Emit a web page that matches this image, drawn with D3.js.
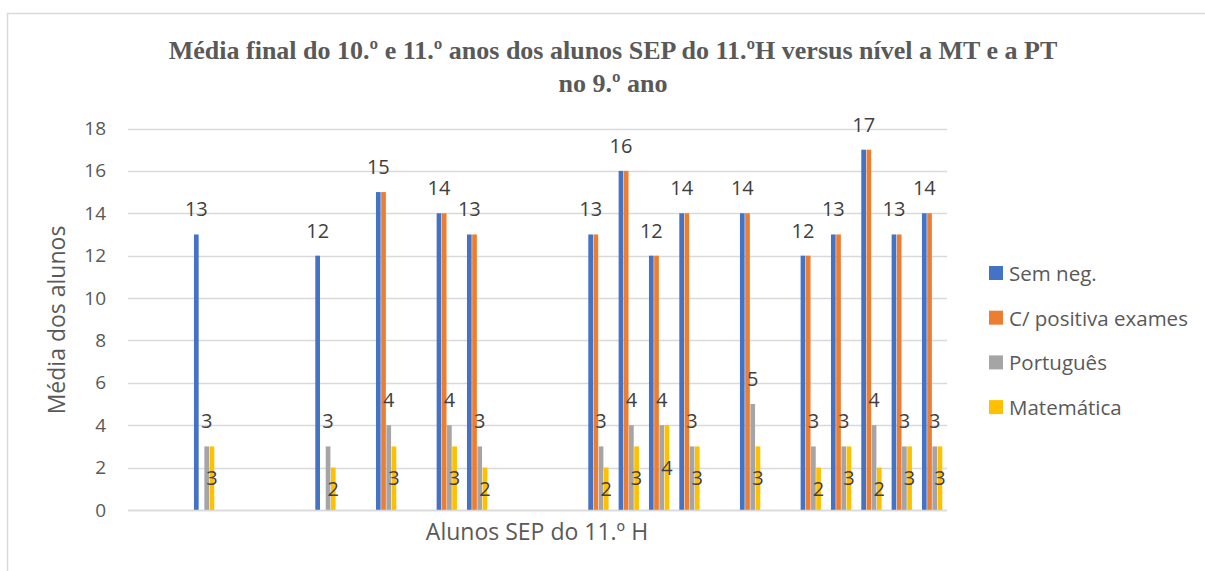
<!DOCTYPE html>
<html>
<head>
<meta charset="utf-8">
<script src="https://cdn.jsdelivr.net/npm/d3@7"></script>
<style>
  body { margin: 0; background: #fff; }
  svg { display: block; }
</style>
</head>
<body>
<div id="chart"></div>
<script>
// data (27 categories, empty ones are blank students)
const categories = d3.range(1, 28).map(String);
const semNeg     = [null,null,13,null,null,null,12,null,15,null,14,13,null,null,null,13,16,12,14,null,14,null,12,13,17,13,14];
const cPositiva  = [null,null,null,null,null,null,null,null,15,null,14,13,null,null,null,13,16,12,14,null,14,null,12,13,17,13,14];
const portugues  = [null,null,3,null,null,null,3,null,4,null,4,3,null,null,null,3,4,4,3,null,5,null,3,3,4,3,3];
const matematica = [null,null,3,null,null,null,2,null,3,null,3,2,null,null,null,2,3,4,3,null,3,null,2,3,2,3,3];
const seriesNames = ['Sem neg.', 'C/ positiva exames', 'Português', 'Matemática'];
const seriesColors = ['#4472C4', '#ED7D31', '#A5A5A5', '#FFC000'];
const yTicks = [0, 2, 4, 6, 8, 10, 12, 14, 16, 18];

const series = [semNeg, cPositiva, portugues, matematica];
const width = 1205, height = 571;
const font = "'Open Sans', 'Noto Sans', sans-serif";

const svg = d3.select('#chart').append('svg')
  .attr('width', width)
  .attr('height', height);

//Chart border (top and left visible)
svg.append('path')
  .attr('d', 'M7.5,' + height + 'V13.5H' + width)
  .attr('fill', 'none')
  .attr('stroke', '#d9d9d9')
  .attr('stroke-width', 1.5);

const x = d3.scaleBand().domain(categories).range([128, 947]);
const xs = d3.scaleBand().domain(d3.range(4)).range([5.3, 25.6]).paddingInner(0.1);
const y = d3.scaleLinear().domain([0, 18]).range([510, 128.5]);

//Gridlines
svg.append('g')
  .selectAll('line')
  .data(yTicks)
  .join('line')
  .attr('x1', 128).attr('x2', 947)
  .attr('y1', d => Math.round(y(d)) + 0.5)
  .attr('y2', d => Math.round(y(d)) + 0.5)
  .attr('stroke', '#d9d9d9')
  .attr('stroke-width', 1.3);

//Y axis
const yAxis = svg.append('g')
  .attr('transform', 'translate(128,0)')
  .call(d3.axisLeft(y).tickValues(yTicks).tickSize(0).tickPadding(22));
yAxis.select('.domain').remove();
yAxis.selectAll('text')
  .attr('fill', '#595959')
  .style('font-family', font)
  .style('font-size', '19px');

//Bars
const groups = svg.append('g')
  .selectAll('g')
  .data(categories)
  .join('g')
  .attr('transform', d => 'translate(' + x(d) + ',0)');

groups.selectAll('rect')
  .data((d, i) => series.map((s, k) => ({k, v: s[i]})).filter(e => e.v != null))
  .join('rect')
  .attr('x', e => xs(e.k))
  .attr('width', xs.bandwidth())
  .attr('y', e => y(e.v))
  .attr('height', e => y(0) - y(e.v))
  .attr('fill', e => seriesColors[e.k]);

//Data labels: blue and gray above the bar, yellow in the middle
const labelStyle = sel => sel
  .attr('text-anchor', 'middle')
  .attr('fill', '#404040')
  .style('font-family', font)
  .style('font-size', '20px');

groups.each(function(d, i) {
  const g = d3.select(this);
  [0, 2].forEach(k => {
    const v = series[k][i];
    if (v == null) return;
    g.append('text')
      .attr('x', xs(k) + xs.bandwidth() / 2)
      .attr('y', y(v) - 18)
      .call(labelStyle)
      .text(v);
  });
  const m = matematica[i];
  if (m != null) {
    g.append('text')
      .attr('x', xs(3) + xs.bandwidth() / 2)
      .attr('y', (y(m) + y(0)) / 2 + 7)
      .call(labelStyle)
      .text(m);
  }
});

//X axis line
svg.append('line')
  .attr('x1', 128).attr('x2', 947)
  .attr('y1', 510.5).attr('y2', 510.5)
  .attr('stroke', '#d9d9d9')
  .attr('stroke-width', 1.3);

//Title
const title = svg.append('text')
  .attr('text-anchor', 'middle')
  .attr('fill', '#595959')
  .style('font-family', "'Liberation Serif', 'Times New Roman', serif")
  .style('font-weight', 'bold')
  .style('font-size', '26px');
title.append('tspan').attr('x', 613).attr('y', 59)
  .text('Média final do 10.º e 11.º anos dos alunos SEP do 11.ºH versus nível a MT e a PT');
title.append('tspan').attr('x', 613).attr('y', 92)
  .text('no 9.º ano');

//Axis titles
svg.append('text')
  .attr('x', 537).attr('y', 540)
  .attr('text-anchor', 'middle')
  .attr('fill', '#595959')
  .style('font-family', font)
  .style('font-size', '23px')
  .text('Alunos SEP do 11.º H');

svg.append('text')
  .attr('transform', 'translate(65,320) rotate(-90)')
  .attr('text-anchor', 'middle')
  .attr('fill', '#595959')
  .style('font-family', font)
  .style('font-size', '23px')
  .text('Média dos alunos');

//Legend
const legend = svg.append('g')
  .selectAll('g')
  .data(seriesNames)
  .join('g')
  .attr('transform', (d, i) => 'translate(989,' + (273 + i * 44.7) + ')');

legend.append('rect')
  .attr('x', 0).attr('y', -7)
  .attr('width', 14).attr('height', 14)
  .attr('fill', (d, i) => seriesColors[i]);

legend.append('text')
  .attr('x', 20).attr('y', 8)
  .attr('fill', '#595959')
  .style('font-family', font)
  .style('font-size', '20.5px')
  .text(d => d);
</script>
</body>
</html>
